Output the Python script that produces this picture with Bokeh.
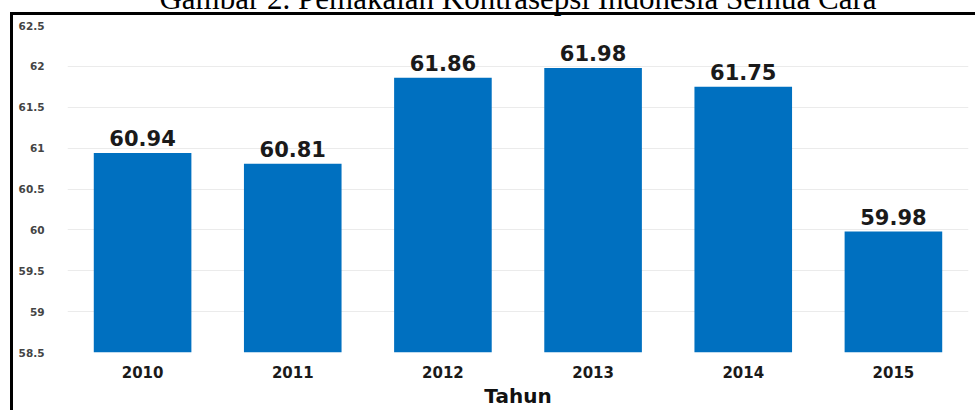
from bokeh.plotting import figure
from bokeh.models import Range1d, FixedTicker, ColumnDataSource, FactorRange
from bokeh.core.properties import value
from bokeh.embed import file_html
from bokeh.resources import INLINE

# ---- data ----
years = ["2010", "2011", "2012", "2013", "2014", "2015"]
rates = [60.94, 60.81, 61.86, 61.98, 61.75, 59.98]
y_ticks = [58.5, 59, 59.5, 60, 60.5, 61, 61.5, 62, 62.5]
y_tick_labels = ["58.5", "59", "59.5", "60", "60.5", "61", "61.5", "62", "62.5"]
title_text = "Gambar 2. Pemakaian Kontrasepsi Indonesia Semua Cara"
x_title = "Tahun"

src = ColumnDataSource(dict(year=years, rate=rates,
                            label=["%.2f" % r for r in rates]))

SHIFT = 40  # canvas starts above the window top so the caption is cut like in the source

p = figure(width=975, height=410 + SHIFT, x_range=FactorRange(*years),
           y_range=Range1d(y_ticks[0], y_ticks[-1]),
           title=title_text,
           output_backend="svg", toolbar_location=None,
           min_border_left=67, min_border_right=7,
           min_border_top=25 + SHIFT, min_border_bottom=57)
p.x_range.range_padding = 0
p.outline_line_color = None
p.background_fill_color = "white"
p.border_fill_color = None
# black frame lines (left and top) drawn behind the transparent canvas border
p.styles = {
    "margin-top": "-%dpx" % SHIFT,
    "background": "linear-gradient(#000,#000) 10px %dpx / 3px 400px no-repeat, "
                  "linear-gradient(#000,#000) 10px %dpx / 965px 3px no-repeat, #fff"
                  % (12 + SHIFT, 12 + SHIFT),
}

# caption (its upper half falls above the window, as in the source image)
p.title.align = "center"
p.title.offset = -3
p.title.standoff = 19
p.title.text_font = "Liberation Serif"
p.title.text_font_size = "31px"
p.title.text_font_style = "normal"
p.title.text_color = "black"

p.vbar(x="year", top="rate", bottom=y_ticks[0], width=0.65, source=src,
       fill_color="#0070C0", line_color=None)
p.text(x="year", y="rate", text="label", source=src, y_offset=-15,
       text_align="center", text_baseline="alphabetic",
       text_font=value("DejaVu Sans"), text_font_style="bold",
       text_font_size="21px", text_color="#1a1a1a")

# axes
p.yaxis.ticker = FixedTicker(ticks=y_ticks)
p.yaxis.major_label_overrides = {float(t): l for t, l in zip(y_ticks, y_tick_labels)}
p.yaxis.axis_line_color = None
p.yaxis.major_tick_line_color = None
p.yaxis.minor_tick_line_color = None
p.yaxis.major_label_standoff = 17
p.yaxis.major_label_text_font = "DejaVu Sans"
p.yaxis.major_label_text_font_style = "bold"
p.yaxis.major_label_text_font_size = "10.5px"
p.yaxis.major_label_text_color = "#444444"

p.xaxis.axis_line_color = None
p.xaxis.major_tick_line_color = None
p.xaxis.minor_tick_line_color = None
p.xaxis.major_label_standoff = 7
p.xaxis.major_label_text_font = "DejaVu Sans"
p.xaxis.major_label_text_font_style = "bold"
p.xaxis.major_label_text_font_size = "15px"
p.xaxis.major_label_text_color = "#1a1a1a"
p.xaxis.axis_label = x_title
p.xaxis.axis_label_standoff = 3
p.xaxis.axis_label_text_font = "DejaVu Sans"
p.xaxis.axis_label_text_font_style = "bold"
p.xaxis.axis_label_text_font_size = "20px"
p.xaxis.axis_label_text_color = "#111111"

p.xgrid.grid_line_color = None
p.ygrid.grid_line_color = "#ebebeb"
p.ygrid.grid_line_width = 1

open("out.html", "w").write(file_html(p, INLINE))
